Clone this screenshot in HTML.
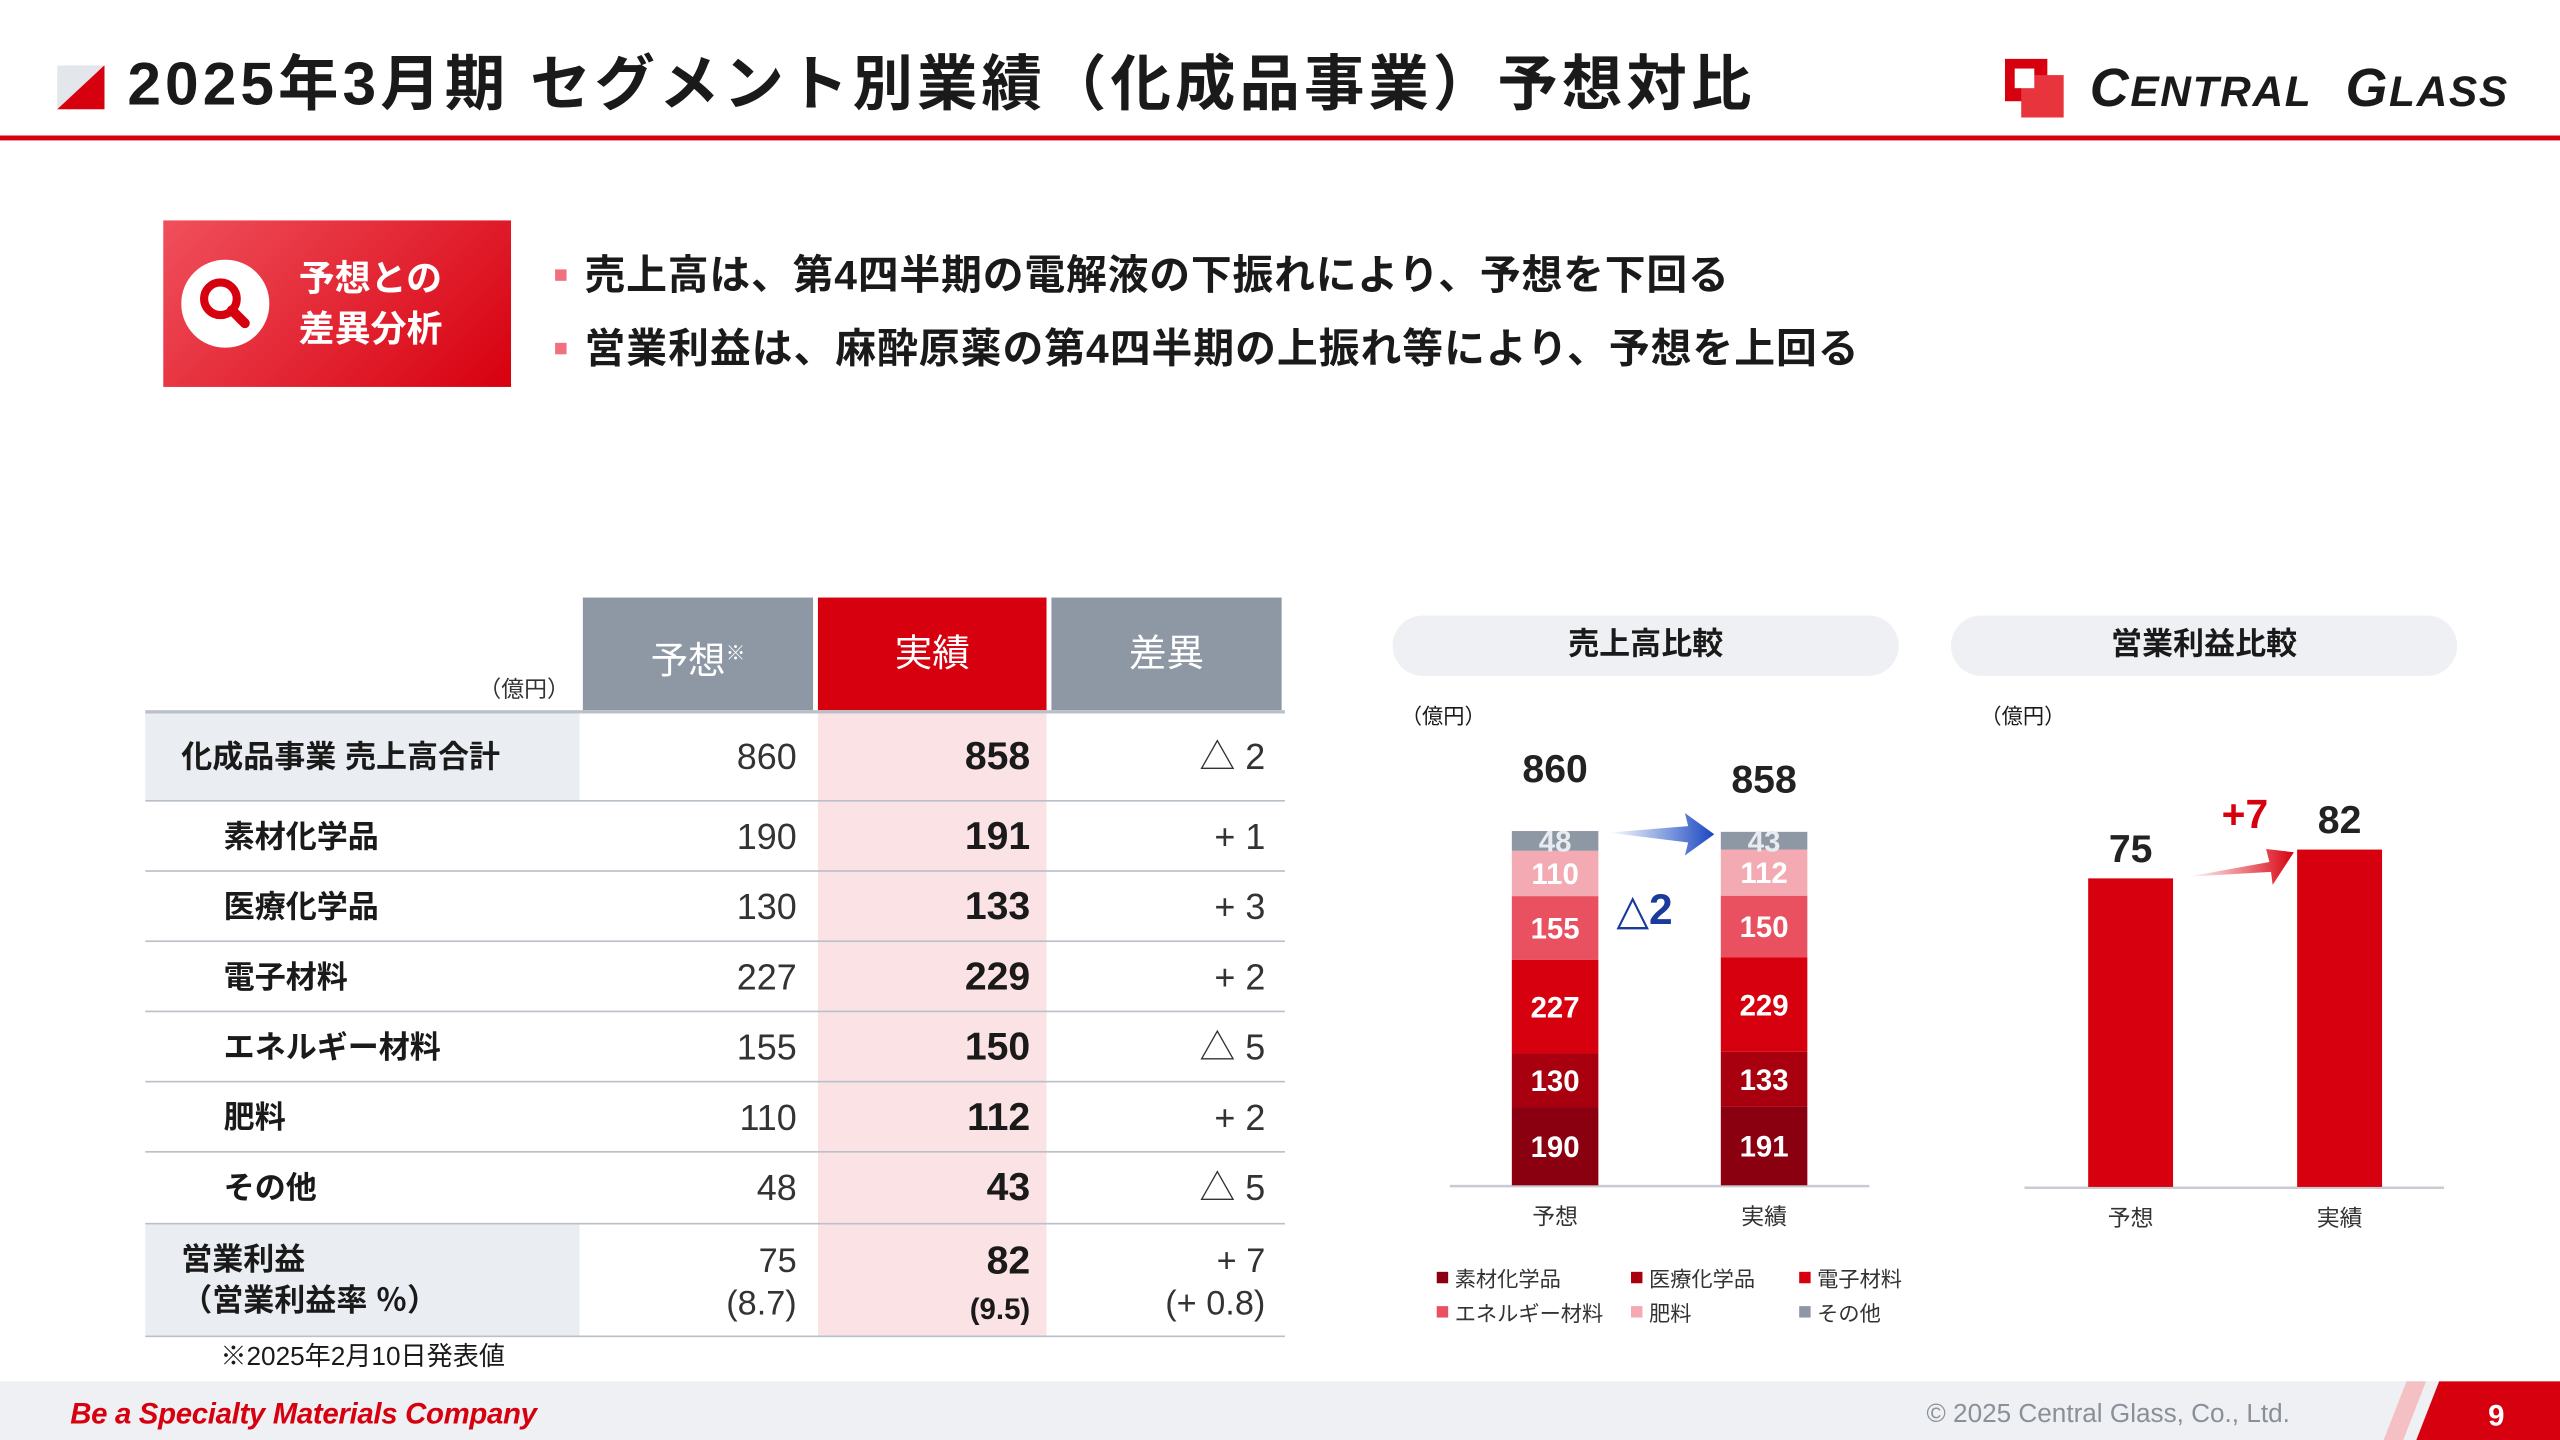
<!DOCTYPE html>
<html><head><meta charset="utf-8">
<style>
html,body{margin:0;padding:0;width:2560px;height:1440px;overflow:hidden;background:#fff}
#stage{position:absolute;left:0;top:0;width:1568px;height:882px;transform:scale(1.632653);transform-origin:0 0;font-family:"Liberation Sans","Noto Sans CJK JP",sans-serif;color:#1a1a1a}
.a{position:absolute;white-space:nowrap}
.cell{position:absolute;text-align:right;font-size:22px;line-height:22px}
.b{font-weight:bold}
.hl{position:absolute;left:89px;width:698px;height:1px;background:#b9c0c8}
</style></head><body>
<div id="stage">
 <svg class="a" style="left:35px;top:40px" width="29" height="27"><polygon points="0,0 29,0 0,27" fill="#e3e6ea"/><polygon points="29,0 29,27 0,27" fill="#d7000f"/></svg>
 <div class="a b" style="left:78px;top:30px;font-size:37px;line-height:44px;letter-spacing:2.5px">2025年3月期 セグメント別業績（化成品事業）予想対比</div>
 <div class="a" style="left:1228px;top:36px">
  <svg width="40" height="36" style="position:absolute;left:0;top:0"><rect x="0" y="0" width="26" height="26" fill="#d7000f"/><rect x="10" y="10" width="26" height="26" fill="#e8343d"/><rect x="6" y="6" width="12" height="12" fill="#fff"/></svg>
  <div class="a b" style="left:52px;top:0;font-size:33px;line-height:36px;font-style:italic;letter-spacing:1px">C<span style="font-size:26px">ENTRAL</span>&nbsp; G<span style="font-size:26px">LASS</span></div>
 </div>
 <div class="a" style="left:0;top:83px;width:1568px;height:3px;background:#d7000f"></div>

 <div class="a" style="left:100px;top:135px;width:213px;height:102px;background:linear-gradient(135deg,#f0505c,#d7000f)">
  <svg class="a" style="left:11px;top:24px" width="54" height="54"><circle cx="27" cy="27" r="27" fill="#fff"/><circle cx="24" cy="24" r="10" fill="none" stroke="#d7000f" stroke-width="5"/><line x1="31" y1="31" x2="39" y2="39" stroke="#d7000f" stroke-width="6" stroke-linecap="round"/></svg>
  <div class="a b" style="left:83px;top:20px;color:#fff;font-size:22px;line-height:31px">予想との<br>差異分析</div>
 </div>
 <div class="a" style="left:340px;top:165px;width:7px;height:7px;background:#f07080"></div>
 <div class="a" style="left:358px;top:153px;font-size:25px;line-height:32px;font-weight:bold;letter-spacing:0.5px">売上高は、第4四半期の電解液の下振れにより、予想を下回る</div>
 <div class="a" style="left:340px;top:210px;width:7px;height:7px;background:#f07080"></div>
 <div class="a" style="left:358px;top:198px;font-size:25px;line-height:32px;font-weight:bold;letter-spacing:0.6px">営業利益は、麻酔原薬の第4四半期の上振れ等により、予想を上回る</div>

 <!-- table -->
 <div>
 <div class="a" style="left:357px;top:366px;width:141px;height:69px;background:#8e98a5;color:#fff;font-size:23px;line-height:69px;text-align:center">予想<sup style="font-size:12px">※</sup></div>
 <div class="a" style="left:501px;top:366px;width:140px;height:69px;background:#d7000f;color:#fff;font-size:23px;line-height:69px;text-align:center">実績</div>
 <div class="a" style="left:644px;top:366px;width:141px;height:69px;background:#8e98a5;color:#fff;font-size:23px;line-height:69px;text-align:center">差異</div>
 <div class="a" style="left:293px;top:412px;font-size:14px;color:#333">（億円）</div>
 <div class="a" style="left:501px;top:436px;width:140px;height:382px;background:#fbe3e5"></div>
 <div class="a" style="left:89px;top:436px;width:266px;height:54px;background:#eaeef2"></div>
 <div class="a" style="left:89px;top:750px;width:266px;height:68px;background:#eaeef2"></div>
 <div class="hl" style="top:435px;height:2px"></div>
 <div class="hl" style="top:490px"></div><div class="hl" style="top:533px"></div><div class="hl" style="top:576px"></div><div class="hl" style="top:619px"></div><div class="hl" style="top:662px"></div><div class="hl" style="top:705px"></div><div class="hl" style="top:749px"></div><div class="hl" style="top:818px"></div>
 <div id="rows"></div>
 <div class="a" style="left:135px;top:822px;font-size:16px;line-height:20px">※2025年2月10日発表値</div>
 </div>

 <!-- charts -->
 <div class="a" style="left:853px;top:377px;width:310px;height:37px;border-radius:19px;background:#eef0f3;text-align:center;font-size:19px;line-height:37px;font-weight:bold">売上高比較</div>
 <div class="a" style="left:1195px;top:377px;width:310px;height:37px;border-radius:19px;background:#eef0f3;text-align:center;font-size:19px;line-height:37px;font-weight:bold">営業利益比較</div>
 <div class="a" style="left:858px;top:428px;font-size:13px">（億円）</div>
 <div class="a" style="left:1213px;top:428px;font-size:13px">（億円）</div>
 <svg id="charts" class="a" style="left:0;top:0" width="1568" height="882">
  <defs>
   <linearGradient id="gb" x1="0" x2="1"><stop offset="0" stop-color="#2457c9" stop-opacity="0"/><stop offset="1" stop-color="#1a45c0"/></linearGradient>
   <linearGradient id="gr" x1="0" x2="1"><stop offset="0" stop-color="#e0101e" stop-opacity="0"/><stop offset="1" stop-color="#d7000f"/></linearGradient>
  </defs>
 </svg>

 <!-- footer -->
 <div class="a" style="left:0;top:846px;width:1568px;height:36px;background:#eef0f3"></div>
 <div class="a b" style="left:43px;top:855px;font-size:18px;line-height:22px;color:#d7000f;font-style:italic;letter-spacing:-0.2px">Be a Specialty Materials Company</div>
 <div class="a" style="left:1180px;top:857px;font-size:16px;line-height:20px;color:#8a9099">© 2025 Central Glass, Co., Ltd.</div>
 <svg class="a" style="left:1460px;top:846px" width="108" height="36"><polygon points="14,0 26,0 12,36 0,36" fill="#f4c0c4"/><polygon points="34,0 108,0 108,36 20,36" fill="#d7000f"/></svg>
 <div class="a b" style="left:1524px;top:856px;font-size:18px;line-height:22px;color:#fff">9</div>
</div>
<script>
// table data
const rowLabels=["化成品事業 売上高合計","素材化学品","医療化学品","電子材料","エネルギー材料","肥料","その他"];
const rowForecast=["860","190","130","227","155","110","48"];
const rowActual=["858","191","133","229","150","112","43"];
const rowDiff=["△ 2","+ 1","+ 3","+ 2","△ 5","+ 2","△ 5"];
// chart data
const categories=["予想","実績"];
const segNames=["素材化学品","医療化学品","電子材料","エネルギー材料","肥料","その他"];
const segForecast=[190,130,227,155,110,48];
const segActual=[191,133,229,150,112,43];
const salesTotals=[860,858];
const profitValues=[75,82];

const rows=document.getElementById('rows');
const rowTops=[437,491,534,577,620,663,706];
const rowH=[53,43,43,43,43,43,43];
function mk(html,style){const d=document.createElement('div');d.className='a';d.style.cssText=style;d.innerHTML=html;rows.appendChild(d);return d;}
rowLabels.forEach((l,i)=>{
 const cy=rowTops[i]+rowH[i]/2;
 const lab=mk(l,`left:${i==0?111:137}px;top:${cy-12}px;font-size:19px;line-height:26px;font-weight:bold`);
 
 
 const f=mk(rowForecast[i],`left:357px;width:131px;top:${cy-13}px;font-size:22px;line-height:26px;text-align:right;color:#333`);
 
 
 const a=mk(rowActual[i],`left:501px;width:130px;top:${cy-13}px;font-size:24px;line-height:26px;text-align:right;font-weight:bold`);
 
 
 const d=mk(rowDiff[i],`left:644px;width:131px;top:${cy-13}px;font-size:22px;line-height:26px;text-align:right;color:#333`);
 
 
});
const pl=mk('営業利益<br>（営業利益率 ％）','left:111px;top:760px;font-size:19px;line-height:25px;font-weight:bold');


const pf=mk('75<br>(8.7)','left:357px;width:131px;top:760px;font-size:21px;line-height:26px;text-align:right;color:#333');


const pa=mk('<span style="font-size:24px">82</span><br><span style="font-size:18px">(9.5)</span>','left:501px;width:130px;top:760px;line-height:26px;text-align:right;font-weight:bold');


const pd=mk('+ 7<br>(+ 0.8)','left:644px;width:131px;top:760px;font-size:21px;line-height:26px;text-align:right;color:#333');



// charts
const NS='http://www.w3.org/2000/svg';
const svg=document.getElementById('charts');
function el(t,a,txt){const e=document.createElementNS(NS,t);for(const k in a)e.setAttribute(k,a[k]);if(txt!==undefined)e.textContent=txt;svg.appendChild(e);return e;}
const segColors=["#8b0010","#a8000f","#d7000f","#e95060","#f4aab2","#8e98a5"];
const segText=["#fff","#fff","#fff","#fff","#fff","#e8ecf0"];
const base=726, salesScale=217/860;
const ySales=v=>base-v*salesScale;
const xSales=[926,1054], bw=53;
const bl=el('line',{x1:888,x2:1145,y1:base+0.5,y2:base+0.5,stroke:'#c8ccd2','stroke-width':1.5});


[segForecast,segActual].forEach((arr,ci)=>{
 let cum=0;
 arr.forEach((v,si)=>{
  const y0=ySales(cum),y1=ySales(cum+v);
  const r=el('rect',{x:xSales[ci],y:y1,width:bw,height:y0-y1,fill:segColors[si]});
  
  
  const t=el('text',{x:xSales[ci]+bw/2,y:(y0+y1)/2+6.5,'text-anchor':'middle','font-size':18,'font-weight':'bold',fill:segText[si],'font-family':'Liberation Sans, sans-serif'},String(v));
  
  
  cum+=v;
 });
 const tt=el('text',{x:xSales[ci]+bw/2,y:ySales(salesTotals[ci])-30+ci*6,'text-anchor':'middle','font-size':24,'font-weight':'bold',fill:'#222','font-family':'Liberation Sans, sans-serif'},String(salesTotals[ci]));
 
 
 const cl=el('text',{x:xSales[ci]+bw/2,y:750,'text-anchor':'middle','font-size':14,fill:'#333','font-family':'Liberation Sans, Noto Sans CJK JP, sans-serif'},categories[ci]);
 
 
});
const ba=el('polygon',{points:`985,510 1034,506 1032,498 1050,511 1032,524 1034,516`,fill:'url(#gb)'});


const dl=el('text',{x:990,y:566,'font-size':26,'font-weight':'bold',fill:'#1a3a9c','font-family':'Liberation Sans, DejaVu Sans, sans-serif'},'△2');


// legend
const legX=[880,999,1102], legY=[784,805];
segNames.forEach((n,i)=>{
 const x=legX[i%3], y=legY[Math.floor(i/3)];
 const s=el('rect',{x:x,y:y-5,width:7,height:7,fill:segColors[i]});
 
 
 const t=el('text',{x:x+11,y:y+4,'font-size':13,fill:'#333','font-family':'Liberation Sans, Noto Sans CJK JP, sans-serif'},n);
 
 
});
// profit chart
const pbase=727, pScale=189/75;
const yP=v=>pbase-v*pScale;
const xP=[1279,1407];
const pbl=el('line',{x1:1240,x2:1497,y1:pbase+0.5,y2:pbase+0.5,stroke:'#c8ccd2','stroke-width':1.5});


profitValues.forEach((v,i)=>{
 const r=el('rect',{x:xP[i],y:yP(v),width:52,height:pbase-yP(v),fill:'#d7000f'});
 
 
 const t=el('text',{x:xP[i]+26,y:yP(v)-10,'text-anchor':'middle','font-size':24,'font-weight':'bold',fill:'#222','font-family':'Liberation Sans, sans-serif'},String(v));
 
 
 const c=el('text',{x:xP[i]+26,y:751,'text-anchor':'middle','font-size':14,fill:'#333','font-family':'Liberation Sans, Noto Sans CJK JP, sans-serif'},categories[i]);
 
 
});
const pa2=el('polygon',{points:`1340,537 1390,528 1388,520 1405,522 1392,542 1391,534`,fill:'url(#gr)'});


const pcl=el('text',{x:1375,y:507,'text-anchor':'middle','font-size':25,'font-weight':'bold',fill:'#d7000f','font-family':'Liberation Sans, sans-serif'},'+'+(profitValues[1]-profitValues[0]));


</script>
</body></html>
